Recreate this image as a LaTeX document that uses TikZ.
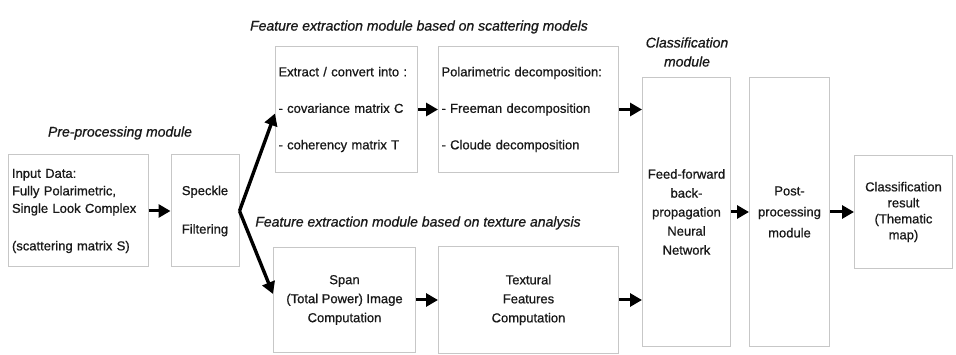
\documentclass[tikz,border=0pt]{standalone}
\usepackage{fontspec}
\setmainfont{Liberation Sans}[RawFeature={embolden=0.8}]
\usetikzlibrary{positioning,arrows.meta,calc}

\begin{document}
\begin{tikzpicture}[
  x=1pt,y=1pt,
  font=\fontsize{13}{17.5}\selectfont,
  n/.style={draw=black!22,line width=1pt,inner sep=0pt,text=black!90},
  lbl/.style={font=\fontsize{14}{19}\selectfont\itshape,text=black!90,align=center},
  >={Triangle[length=12pt,width=13pt]},
  arr/.style={->,line width=3pt,black},
  node distance=22pt
]
\useasboundingbox (0,0) rectangle (956,-355);
% pre-processing
\node[n,minimum width=140pt,minimum height=112pt,text width=132pt,align=left] (in) at (78,-211)
  {Input Data:\\Fully Polarimetric,\\Single Look Complex\\[20pt](scattering matrix S)};
\node[n,right=of in,minimum width=68pt,minimum height=112pt,align=center] (spk)
  {Speckle\\[21pt]Filtering};
% scattering models
\node[n,anchor=north west,minimum width=142pt,minimum height=126pt,text width=136pt,align=left] (ext) at (275,-46)
  {Extract / convert into :\\[19pt]- covariance matrix C\\[19pt]- coherency matrix T};
\node[n,right=20pt of ext,minimum width=180pt,minimum height=126pt,text width=174pt,align=left] (pol)
  {Polarimetric decomposition:\\[19pt]- Freeman decomposition\\[19pt]- Cloude decomposition};
% texture analysis
\node[n,anchor=north west,minimum width=142pt,minimum height=105pt,align=center,font=\fontsize{13}{19}\selectfont] (span) at (273,-247)
  {Span\\(Total Power) Image\\Computation};
\node[n,right=of span,minimum width=180pt,minimum height=107pt,align=center,font=\fontsize{13}{19}\selectfont] (tex)
  {Textural\\Features\\Computation};
% classification
\node[n,anchor=north west,minimum width=88pt,minimum height=269pt,align=center,font=\fontsize{13}{19}\selectfont] (nn) at (642,-77)
  {Feed-forward\\back-\\propagation\\Neural\\Network};
\node[n,right=18pt of nn,minimum width=80pt,minimum height=269pt,align=center,font=\fontsize{13}{21}\selectfont] (post)
  {Post-\\processing\\module};
\node[n,right=24pt of post,minimum width=98pt,minimum height=113pt,align=center,font=\fontsize{13}{16}\selectfont] (res)
  {Classification\\result\\(Thematic\\map)};
% module labels
\node[lbl] (lpre) at (120,-133) {Pre-processing module};
\node[lbl] (lsca) at (419,-27) {Feature extraction module based on scattering models};
\node[lbl] (ltex) at (418,-223) {Feature extraction module based on texture analysis};
\node[lbl] (lcls) at (687,-52) {Classification\\module};
% arrows
\draw[arr] (in) -- (spk);
\draw[arr,line width=3.4pt] (spk.east) -- ([yshift=-4pt]ext.west);
\draw[arr,line width=3.4pt] (spk.east) -- ([yshift=6pt]span.west);
\draw[arr] (ext) -- (pol);
\draw[arr] (span.east) -- (span.east -| tex.west);
\draw[arr] (pol.east) -- (pol.east -| nn.west);
\draw[arr] (tex.east) -- (tex.east -| nn.west);
\draw[arr] (nn) -- (post);
\draw[arr] (post) -- (res);
\end{tikzpicture}
\end{document}
